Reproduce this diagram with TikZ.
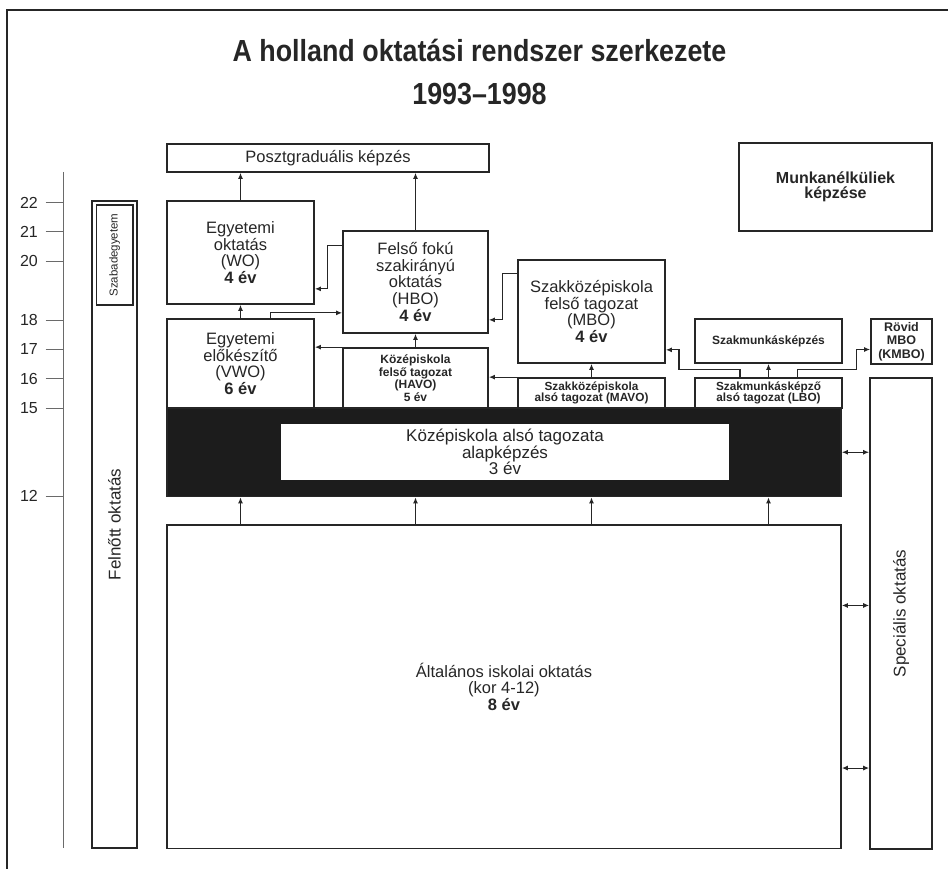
\documentclass[tikz,border=0pt]{standalone}
\usepackage{fontspec}
\setmainfont{Liberation Sans}
\newfontfamily\titlefont[FakeStretch=0.88]{Liberation Sans}
\usetikzlibrary{positioning, arrows.meta, calc}
\definecolor{ink}{HTML}{262626}
\definecolor{barfill}{HTML}{1c1c1c}
\definecolor{axis}{HTML}{6a6a6a}

\tikzset{
  box/.style={draw=ink, line width=1.7pt, inner sep=0pt, align=center, text=ink},
  bigtext/.style={font=\fontsize{16.5}{16.7}\selectfont},
  smalltext/.style={font=\bfseries\fontsize{12}{12.6}\selectfont},
  tinytext/.style={font=\bfseries\fontsize{11.8}{11.2}\selectfont},
  sidetext/.style={font=\fontsize{17}{17}\selectfont, text=ink},
  arr/.style={draw=ink, line width=1.1pt, -{Latex[length=6pt,width=5pt]}},
  dblarr/.style={draw=ink, line width=1.1pt, {Latex[length=6pt,width=5pt]}-{Latex[length=6pt,width=5pt]}},
}

\begin{document}
\begin{tikzpicture}[x=1pt, y=-1pt]
  \useasboundingbox (0,0) rectangle (948,869);

  % Frame and title
  \draw[ink, line width=1.8pt] (948,10) -- (7,10) -- (7,869);
  \node[font=\titlefont\bfseries\fontsize{30.5}{32}\selectfont, text=ink, anchor=base] (title) at (479.5,61.7)
    {A holland oktatási rendszer szerkezete};
  \node[font=\titlefont\bfseries\fontsize{30.5}{32}\selectfont, text=ink, anchor=base] (years) at (479.5,105)
    {1993–1998};

  % Age scale
  \draw[axis, line width=0.8pt] (63,172) -- (63,848);
  \foreach \a in {22,21,20,18,17,16,15,12} {
    \draw[axis, line width=0.8pt] (45.5,{496-(\a-12)*29.35}) -- (63,{496-(\a-12)*29.35});
    \node[font=\fontsize{16}{16}\selectfont, text=ink] (age\a) at (29,{496-(\a-12)*29.35}) {\a};
  }

  % Adult education
  \node[box, minimum width=45pt, minimum height=647pt,
    label={[rotate=90, sidetext]center:Felnőtt oktatás}] (felnott) at (114.5,524.5) {};
  \node[box, line width=1.3pt, minimum width=36.5pt, minimum height=100pt,
    label={[rotate=90, font=\fontsize{11.5}{11.5}\selectfont, text=ink]center:Szabadegyetem}] (szabad) at (114.75,255) {};

  % Upper boxes
  \node[box, bigtext, minimum width=322pt, minimum height=28pt] (poszt) at (328,158) {Posztgraduális képzés};
  \node[box, font=\bfseries\fontsize{16}{15.5}\selectfont, minimum width=193pt, minimum height=88pt] (munka) at (835.5,187)
    {Munkanélküliek\\képzése};
  \node[box, bigtext, minimum width=147pt, minimum height=103pt] (wo) at (240.5,252.5)
    {Egyetemi\\oktatás\\(WO)\\\textbf{4 év}};
  \node[box, bigtext, minimum width=145pt, minimum height=102pt] (hbo) at (415.5,282)
    {Felső fokú\\szakirányú\\oktatás\\(HBO)\\\textbf{4 év}};
  \node[box, bigtext, minimum width=147pt, minimum height=103pt] (mbo) at (591.5,311.5)
    {Szakközépiskola\\felső tagozat\\(MBO)\\\textbf{4 év}};
  \node[box, bigtext, minimum width=147pt, minimum height=89pt] (vwo) at (240.5,363.5)
    {Egyetemi\\előkészítő\\(VWO)\\\textbf{6 év}};
  \node[box, smalltext, minimum width=145pt, minimum height=60pt] (havo) at (415.5,378)
    {Középiskola\\felső tagozat\\(HAVO)\\5 év};
  \node[box, tinytext, minimum width=147pt, minimum height=30pt] (mavo) at (591.5,393)
    {Szakközépiskola\\alsó tagozat (MAVO)};
  \node[box, smalltext, minimum width=147pt, minimum height=44pt] (szakm) at (768.5,341)
    {Szakmunkásképzés};
  \node[box, tinytext, minimum width=147pt, minimum height=30pt] (lbo) at (768.5,393)
    {Szakmunkásképző\\alsó tagozat (LBO)};
  \node[box, font=\bfseries\fontsize{12.5}{13.7}\selectfont, minimum width=61pt, minimum height=45pt] (kmbo) at (901.5,341.5)
    {Rövid\\MBO\\(KMBO)};

  % Lower secondary and primary
  \node[draw=ink, fill=barfill, line width=1.7pt, minimum width=674pt, minimum height=88.5pt] (bar) at (504,452.25) {};
  \node[box, draw=none, fill=white, font=\fontsize{17}{16.5}\selectfont, minimum width=448pt, minimum height=56pt] (alap) at (505,452)
    {Középiskola alsó tagozata\\alapképzés\\3 év};
  \node[box, bigtext, minimum width=674pt, minimum height=323.5pt] (alt) at (504,686.75)
    {Általános iskolai oktatás\\(kor 4-12)\\\textbf{8 év}};
  \node[box, minimum width=62pt, minimum height=471pt,
    label={[rotate=90, sidetext]center:Speciális oktatás}] (spec) at (901,613.5) {};

  % Connectors
  \draw[arr] (wo.north) -- (poszt.south -| wo.north);
  \draw[arr] (hbo.north) -- (poszt.south -| hbo.north);
  \draw[arr] (vwo.north) -- (wo.south);
  \draw[arr] (havo.north) -- (hbo.south);
  \draw[arr] (mavo.north) -- (mbo.south);
  \draw[arr] (lbo.north) -- (szakm.south);
  \draw[arr] ([yshift=-15pt]hbo.north west) -- ++(-15,0) |- ([yshift=16pt]wo.south east);
  \draw[arr] ([xshift=30pt]vwo.north) |- ([yshift=21pt]hbo.south west);
  \draw[arr] ([yshift=-14pt]mbo.north west) -- ++(-14.5,0) |- ([yshift=14pt]hbo.south east);
  \draw[arr] (havo.north west) -- (havo.north west -| vwo.east);
  \draw[arr] (mavo.north west) -- (mavo.north west -| havo.east);
  \draw[arr] ([xshift=-28.5pt]lbo.north) -- ++(0,-7.5) -- ++(-61,0) |- ([yshift=14pt]mbo.south east);
  \draw[arr] ([xshift=29pt]lbo.north) -- ++(0,-7.5) -- ++(59,0) |- ([yshift=-8pt]kmbo.west);
  \foreach \n in {vwo, havo, mavo, lbo}
    \draw[arr] (alt.north -| \n) -- (bar.south -| \n);

  % Links to special education
  \coordinate (alt1) at ($(alt.north east)!0.25!(alt.south east)$);
  \coordinate (alt2) at ($(alt.north east)!0.75!(alt.south east)$);
  \draw[dblarr] (bar.east) -- (bar.east -| spec.west);
  \draw[dblarr] (alt1) -- (alt1 -| spec.west);
  \draw[dblarr] (alt2) -- (alt2 -| spec.west);
\end{tikzpicture}
\end{document}
